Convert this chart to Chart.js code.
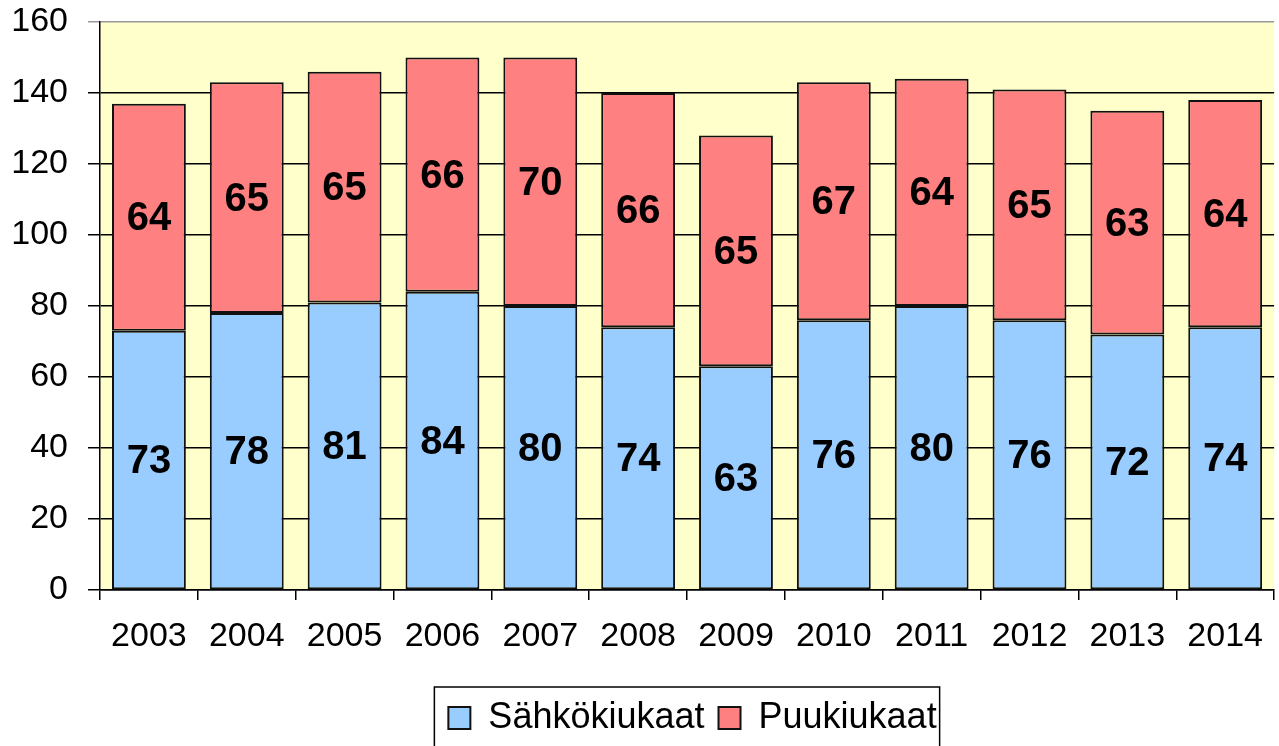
<!DOCTYPE html>
<html>
<head>
<meta charset="utf-8">
<script src="https://cdn.jsdelivr.net/npm/chart.js@4.4.1/dist/chart.umd.min.js"></script>
<style>
  html, body { margin: 0; padding: 0; background: #fff; overflow: hidden; }
  #wrap { width: 1279px; height: 746px; }
</style>
</head>
<body>
<div id="wrap"><canvas id="chart" width="1279" height="746"></canvas></div>
<script>
const years = ['2003', '2004', '2005', '2006', '2007', '2008', '2009', '2010', '2011', '2012', '2013', '2014'];
const sahkokiukaat = [73, 78, 81, 84, 80, 74, 63, 76, 80, 76, 72, 74];
const puukiukaat   = [64, 65, 65, 66, 70, 66, 65, 67, 64, 65, 63, 64];
const yTicks = [0, 20, 40, 60, 80, 100, 120, 140, 160];

const FONT = '"Liberation Sans", Arial, sans-serif';

// keltainen tausta piirtoalueelle
const plotBg = {
  id: 'plotBg',
  beforeDraw(chart) {
    const { ctx, chartArea: a } = chart;
    ctx.save();
    ctx.fillStyle = '#FFFFCC';
    ctx.fillRect(a.left, a.top, a.right - a.left, a.bottom - a.top);
    ctx.restore();
  }
};

// arvot pylväiden sisään
const barLabels = {
  id: 'barLabels',
  afterDatasetsDraw(chart) {
    const ctx = chart.ctx;
    ctx.save();
    ctx.font = 'bold 40px ' + FONT;
    ctx.fillStyle = '#000';
    ctx.textAlign = 'center';
    ctx.textBaseline = 'middle';
    chart.data.datasets.forEach((ds, i) => {
      chart.getDatasetMeta(i).data.forEach((el, j) => {
        const { x, y, base } = el.getProps(['x', 'y', 'base'], true);
        ctx.fillText(String(ds.data[j]), x, (y + base) / 2 + 2);
      });
    });
    ctx.restore();
  }
};

// selite hieman oikealle (keskitetty piirtoalueen alle) + kehys
const legendFrame = {
  id: 'legendFrame',
  afterLayout(chart) {
    const l = chart.legend;
    if (!l) return;
    const dx = 53;
    l.left += dx;
    l.right += dx;
    l.adjustHitBoxes();
  },
  afterDraw(chart) {
    const l = chart.legend;
    if (!l) return;
    const ctx = chart.ctx;
    let x0 = Infinity, x1 = -Infinity;
    l.legendHitBoxes.forEach(b => { x0 = Math.min(x0, b.left); x1 = Math.max(x1, b.left + b.width); });
    ctx.save();
    ctx.strokeStyle = '#000';
    ctx.lineWidth = 1.5;
    ctx.strokeRect(x0 - 14, l.top + 1, (x1 - x0) + 17, 90);
    ctx.restore();
  }
};

new Chart(document.getElementById('chart'), {
  type: 'bar',
  data: {
    labels: years,
    datasets: [
      {
        label: 'Sähkökiukaat',
        data: sahkokiukaat,
        backgroundColor: '#99CCFF',
        borderColor: '#111',
        borderWidth: 2,
        borderSkipped: false,
        barPercentage: 0.755,
        categoryPercentage: 1
      },
      {
        label: 'Puukiukaat',
        data: puukiukaat,
        backgroundColor: '#FF8080',
        borderColor: '#111',
        borderWidth: 2,
        borderSkipped: false,
        barPercentage: 0.755,
        categoryPercentage: 1
      }
    ]
  },
  options: {
    responsive: false,
    animation: false,
    layout: { padding: 0 },
    plugins: {
      title: { display: false },
      tooltip: { enabled: false },
      legend: {
        position: 'bottom',
        labels: {
          font: { family: FONT, size: 36 },
          color: '#000',
          boxWidth: 22,
          boxHeight: 22,
          padding: 14
        }
      }
    },
    scales: {
      x: {
        stacked: true,
        offset: true,
        afterFit(s) { s.height = 96; },
        grid: { drawOnChartArea: false, offset: true, tickLength: 10, color: '#000', lineWidth: 1.5 },
        border: { color: '#000', width: 1.5 },
        ticks: { font: { family: FONT, size: 34 }, color: '#000', padding: 16, maxRotation: 0 }
      },
      y: {
        stacked: true,
        min: 0,
        max: 160,
        afterFit(s) { s.width = 100; s.paddingTop = 22; s.paddingBottom = 0; },
        afterBuildTicks(s) { s.ticks = yTicks.map(v => ({ value: v })); },
        grid: {
          tickLength: 12,
          lineWidth: 1.5,
          color: c => (c.tick && c.tick.value === 160 ? '#999' : '#000')
        },
        border: { color: '#000', width: 1.5 },
        ticks: { font: { family: FONT, size: 34 }, color: '#000', padding: 20 }
      }
    }
  },
  plugins: [plotBg, barLabels, legendFrame]
});
</script>
</body>
</html>
